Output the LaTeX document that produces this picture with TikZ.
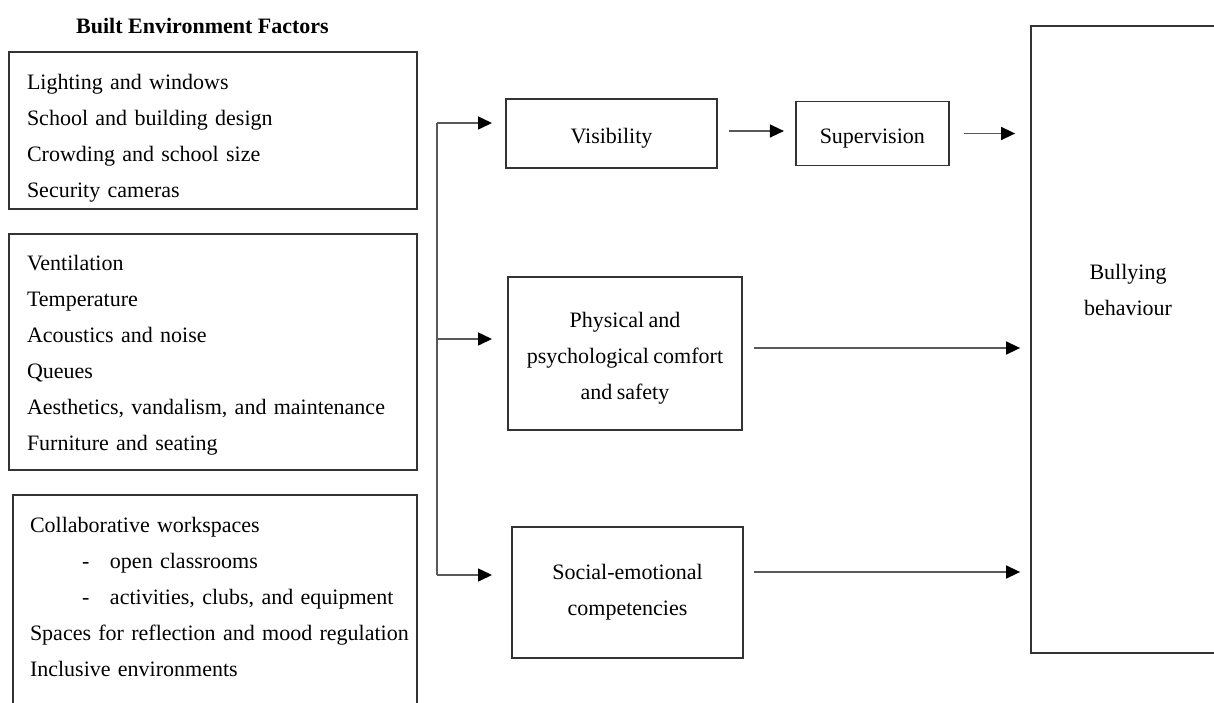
\documentclass[tikz,border=0pt]{standalone}
\usepackage{fontspec}
\setmainfont{Liberation Serif}
\usetikzlibrary{arrows.meta,positioning}
\newcommand{\boxlift}[1]{\rule{0pt}{#1}}
\newcommand{\boxdrop}[1]{\rule[-#1]{0pt}{#1}}
\DeclareRobustCommand{\tightfont}{\fontsize{11}{18}\selectfont\spaceskip=0.2em plus 0.1em minus 0.05em\relax}

\begin{document}
\begin{tikzpicture}[x=0.5pt,y=-0.5pt,>={Triangle[length=7pt,width=6.5pt,color=black,fill=black]},
   every node/.style={font=\tightfont},
   listbox/.style={draw=black!80,line width=0.9pt,align=left,inner xsep=9pt,inner ysep=0pt},
   midbox/.style={draw=black!80,line width=0.9pt,align=center,inner sep=0pt},
   conn/.style={color=black!65,line width=0.75pt}]
   \useasboundingbox (0,0) rectangle (1214,702);
   \clip (0,0) rectangle (1214,702);
   % factor lists
   \node[font=\fontsize{11}{18}\selectfont\bfseries] (title) at (202.5,26) {Built Environment Factors};
   \node[listbox,text width=186pt,minimum height=78.5pt] (design) at (213,130.5)
      {\boxlift{15pt}Lighting and windows\\School and building design\\Crowding and school size\\Security cameras};
   \node[listbox,text width=186pt,minimum height=118pt] (comfort) at (213,352)
      {\boxlift{11pt}Ventilation\\Temperature\\Acoustics and noise\\Queues\\Aesthetics, vandalism, and maintenance\\Furniture and seating};
   \node[listbox,inner xsep=8.5pt,text width=185pt,minimum height=105.5pt] (social) at (215,600.5)
      {Collaborative workspaces\\
       \makebox[40pt][l]{\hspace{26pt}-}open classrooms\\
       \makebox[40pt][l]{\hspace{26pt}-}activities, clubs, and equipment\\
       \mbox{Spaces for reflection and mood regulation}\\Inclusive environments\boxdrop{4pt}};
   % mediators
   \node[midbox,minimum width=105.5pt,minimum height=34.5pt] (vis) at (611.5,133.5) {\boxlift{12pt}Visibility};
   \node[midbox,minimum width=76.5pt,minimum height=32pt] (sup) [right=38.5pt of vis] {\boxlift{12pt}Supervision};
   \node[midbox,minimum width=117pt,minimum height=76.5pt] (phys) at (625,353.5)
      {\boxlift{12pt}Physical and\\psychological comfort\\and safety};
   \node[midbox,minimum width=115.5pt,minimum height=65.5pt] (soc) at (627.5,592.5)
      {Social-emotional\\competencies};
   % outcome
   \node[midbox,minimum width=97pt,minimum height=313.5pt] (bully) at (1128,339.5) {};
   \node[align=center] (bullytext) at (1128,290) {Bullying\\behaviour};
   % connectors
   \coordinate (tr1) at (437,123);
   \coordinate (tr2) at (437,339);
   \coordinate (tr3) at (437,575);
   \coordinate (tipx) at (492,0);
   \draw[conn] (tr1) -- (tr3);
   \path[conn,->]
   (tr1) edge (tr1 -| tipx)
   (tr2) edge (tr2 -| tipx)
   (tr3) edge (tr3 -| tipx)
   ([yshift=1.25pt]vis.east) edge [shorten <=5.5pt,shorten >=5.5pt] ([yshift=1.25pt]vis.east -| sup.west)
   (sup.east) edge [shorten <=7pt,shorten >=7.5pt] (sup.east -| bully.west)
   ([yshift=2.75pt]phys.east) edge [shorten <=5.5pt,shorten >=5pt] ([yshift=2.75pt]phys.east -| bully.west)
   ([yshift=10.25pt]soc.east) edge [shorten <=5pt,shorten >=5pt] ([yshift=10.25pt]soc.east -| bully.west);
\end{tikzpicture}
\end{document}
